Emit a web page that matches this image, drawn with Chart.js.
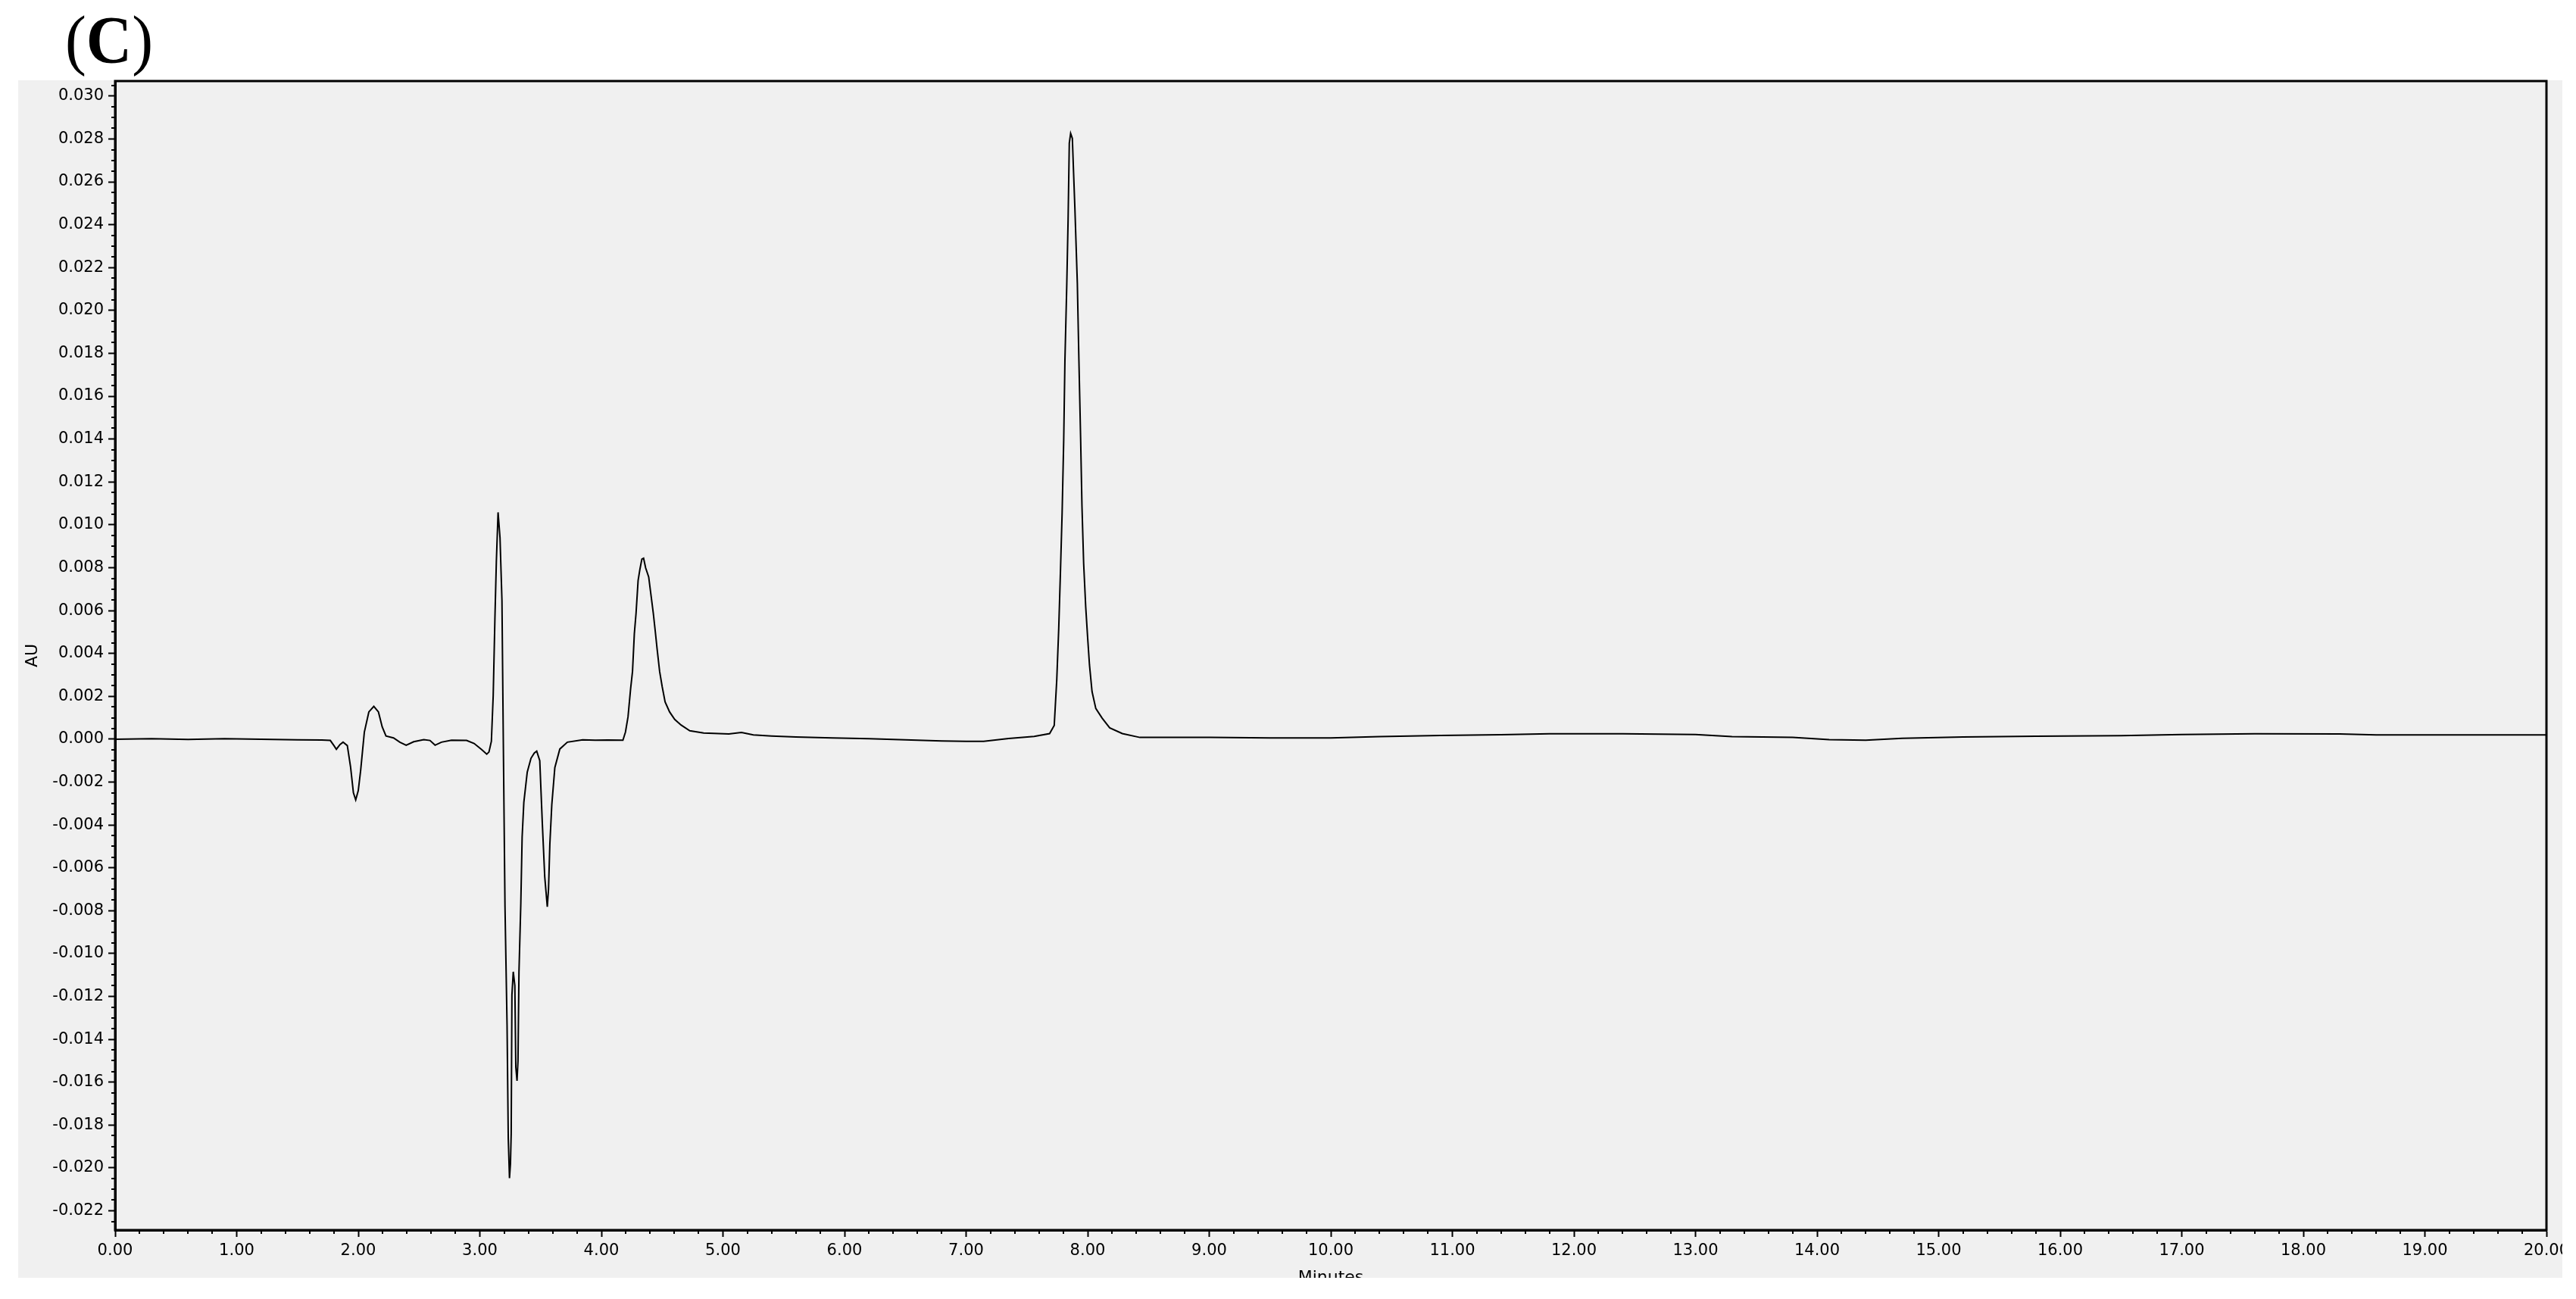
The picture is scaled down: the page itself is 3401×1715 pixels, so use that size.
<!DOCTYPE html>
<html>
<head>
<meta charset="utf-8">
<title>Chromatogram (C)</title>
<script src="https://cdn.jsdelivr.net/npm/chart.js@4.4.1/dist/chart.umd.min.js"></script>
<style>
  html, body { margin: 0; padding: 0; background: #fff; }
  #wrap { position: relative; width: 3401px; height: 1715px; }
  #chart { position: absolute; left: 0; top: 0; display: block; }
  #label {
    position: absolute; left: 86px; top: 9px;
    font-family: "Liberation Serif", "Times New Roman", serif;
    font-size: 88px; line-height: 1; color: #000;
    transform-origin: left top; transform: scaleX(0.95);
  }
</style>
</head>
<body>
<div id="wrap">
  <canvas id="chart" width="3401" height="1715"></canvas>
  <div id="label">(<b>C</b>)</div>
</div>
<script>
// retention time (min)
const times = [
  0.00, 0.30, 0.60, 0.90, 1.20, 1.50, 1.70, 1.77, 1.80, 1.82,
  1.85, 1.875, 1.91, 1.937, 1.96, 1.979, 2.00, 2.02, 2.05, 2.087,
  2.128, 2.166, 2.197, 2.228, 2.29, 2.342, 2.394, 2.456, 2.539, 2.59,
  2.632, 2.684, 2.767, 2.891, 2.953, 3.016, 3.057, 3.075, 3.095, 3.11,
  3.124, 3.136, 3.15, 3.166, 3.182, 3.193, 3.207, 3.224, 3.234, 3.244,
  3.252, 3.258, 3.264, 3.275, 3.288, 3.296, 3.306, 3.314, 3.322, 3.337,
  3.348, 3.362, 3.39, 3.421, 3.448, 3.468, 3.493, 3.514, 3.534, 3.555,
  3.565, 3.576, 3.592, 3.617, 3.658, 3.72, 3.846, 3.95, 4.05, 4.177,
  4.198, 4.219, 4.24, 4.256, 4.271, 4.285, 4.302, 4.317, 4.333, 4.347,
  4.364, 4.389, 4.406, 4.427, 4.443, 4.458, 4.479, 4.50, 4.524, 4.561,
  4.603, 4.655, 4.727, 4.841, 5.048, 5.152, 5.25, 5.40, 5.60, 5.90,
  6.20, 6.50, 6.80, 7.00, 7.144, 7.35, 7.56, 7.687, 7.725, 7.746,
  7.762, 7.777, 7.79, 7.803, 7.813, 7.828, 7.839, 7.849, 7.86, 7.874,
  7.884, 7.895, 7.915, 7.928, 7.942, 7.953, 7.967, 7.984, 7.999, 8.015,
  8.036, 8.067, 8.119, 8.181, 8.285, 8.43, 8.70, 9.01, 9.50, 10.00,
  10.40, 10.90, 11.40, 11.80, 12.40, 13.00, 13.30, 13.80, 14.10, 14.40,
  14.70, 15.20, 15.80, 16.50, 17.00, 17.60, 18.30, 18.60, 19.20, 20.00
];

// detector response (AU)
const absorbance = [
  0.00000, 0.00002, -0.00001, 0.00002, 0.00000, -0.00003, -0.00004, -0.00006, -0.00030, -0.00047,
  -0.00025, -0.00014, -0.00030, -0.00131, -0.00250, -0.00283, -0.00240, -0.00144, 0.00033, 0.00127,
  0.00153, 0.00127, 0.00057, 0.00015, 0.00006, -0.00014, -0.00028, -0.00012, -0.00002, -0.00006,
  -0.00028, -0.00014, -0.00005, -0.00006, -0.00020, -0.00049, -0.00070, -0.00060, -0.00010, 0.00203,
  0.00560, 0.00830, 0.01058, 0.00940, 0.00647, 0.00000, -0.00781, -0.01333, -0.01863, -0.02048,
  -0.01980, -0.01840, -0.01193, -0.01085, -0.01150, -0.01529, -0.01594, -0.01500, -0.01085, -0.00770,
  -0.00456, -0.00295, -0.00154, -0.00089, -0.00065, -0.00056, -0.00100, -0.00392, -0.00642, -0.00782,
  -0.00700, -0.00490, -0.00306, -0.00133, -0.00046, -0.00014, -0.00003, -0.00005, -0.00004, -0.00005,
  0.00033, 0.00104, 0.00233, 0.00316, 0.00492, 0.00587, 0.00740, 0.00793, 0.00840, 0.00844,
  0.00799, 0.00757, 0.00681, 0.00587, 0.00504, 0.00422, 0.00316, 0.00245, 0.00174, 0.00127,
  0.00092, 0.00066, 0.00039, 0.00029, 0.00024, 0.00031, 0.00020, 0.00015, 0.00010, 0.00006,
  0.00002, -0.00003, -0.00008, -0.00010, -0.00010, 0.00003, 0.00013, 0.00026, 0.00064, 0.00279,
  0.00516, 0.00797, 0.01057, 0.01395, 0.01767, 0.02116, 0.02421, 0.02781, 0.02826, 0.02803,
  0.02645, 0.02476, 0.02128, 0.01767, 0.01407, 0.01090, 0.00820, 0.00617, 0.00481, 0.00346,
  0.00222, 0.00143, 0.00098, 0.00053, 0.00026, 0.00008, 0.00008, 0.00008, 0.00006, 0.00006,
  0.00012, 0.00017, 0.00021, 0.00025, 0.00025, 0.00022, 0.00012, 0.00008, -0.00002, -0.00005,
  0.00004, 0.00010, 0.00014, 0.00016, 0.00022, 0.00025, 0.00024, 0.00020, 0.00020, 0.00020
];

const xTicks = [0, 1, 2, 3, 4, 5, 6, 7, 8, 9, 10, 11, 12, 13, 14, 15, 16, 17, 18, 19, 20];
const yTicks = [
  -0.022, -0.020, -0.018, -0.016, -0.014, -0.012, -0.010, -0.008, -0.006, -0.004, -0.002,
  0.000, 0.002, 0.004, 0.006, 0.008, 0.010, 0.012, 0.014, 0.016, 0.018, 0.020,
  0.022, 0.024, 0.026, 0.028, 0.030
];

const labelFont = { family: "DejaVu Sans", size: 21 };
const titleFont = { family: "DejaVu Sans", size: 22 };

// grey panel behind the chart, frame, minor ticks, and the cropped edges
const panelPlugin = {
  id: "panel",
  beforeDraw(chart) {
    const ctx = chart.ctx;
    ctx.save();
    ctx.fillStyle = "#ffffff";
    ctx.fillRect(0, 0, chart.width, chart.height);
    ctx.fillStyle = "#f0f0f0";
    ctx.fillRect(24, 106, 3359, 1581);
    ctx.restore();
  },
  afterDraw(chart) {
    const ctx = chart.ctx;
    const a = chart.chartArea;
    const xs = chart.scales.x;
    const ys = chart.scales.y;
    ctx.save();
    ctx.strokeStyle = "#000";
    ctx.lineWidth = 3;
    ctx.strokeRect(a.left, a.top, a.right - a.left, a.bottom - a.top);

    ctx.lineWidth = 2;
    ctx.beginPath();
    for (let i = 1; i < 100; i++) {
      if (i % 5 === 0) continue;
      const px = Math.round(xs.getPixelForValue(i / 5));
      ctx.moveTo(px, a.bottom);
      ctx.lineTo(px, a.bottom + 5);
    }
    for (let i = -46; i <= 61; i++) {
      if (i % 4 === 0) continue;
      const v = i * 0.0005;
      if (v < ys.min || v > ys.max) continue;
      const py = Math.round(ys.getPixelForValue(v));
      ctx.moveTo(a.left - 5, py);
      ctx.lineTo(a.left, py);
    }
    ctx.stroke();

    ctx.fillStyle = "#ffffff";
    ctx.fillRect(3383, 0, chart.width - 3383, chart.height);
    ctx.fillRect(0, 1687, chart.width, chart.height - 1687);
    ctx.restore();
  }
};

new Chart(document.getElementById("chart").getContext("2d"), {
  type: "line",
  data: {
    datasets: [{
      data: times.map((t, i) => ({ x: t, y: absorbance[i] })),
      borderColor: "#000",
      borderWidth: 2,
      pointRadius: 0,
      tension: 0,
      fill: false
    }]
  },
  options: {
    responsive: false,
    animation: false,
    devicePixelRatio: 1,
    layout: { padding: { left: 0, top: 107, right: 39, bottom: 0 } },
    plugins: { legend: { display: false }, tooltip: { enabled: false } },
    scales: {
      x: {
        type: "linear",
        min: 0,
        max: 20,
        afterBuildTicks: (s) => { s.ticks = xTicks.map((v) => ({ value: v })); },
        afterFit: (s) => { s.height = 91; },
        grid: { drawOnChartArea: false, tickLength: 9, tickWidth: 2, tickColor: "#000" },
        border: { color: "#000", width: 3 },
        ticks: {
          padding: 6, color: "#000", font: labelFont,
          maxRotation: 0, autoSkip: false,
          callback: (v) => Number(v).toFixed(2)
        },
        title: { display: true, text: "Minutes", color: "#000", font: titleFont, padding: { top: 0, bottom: 15 } }
      },
      y: {
        type: "linear",
        min: -0.0229,
        max: 0.0307,
        afterBuildTicks: (s) => { s.ticks = yTicks.map((v) => ({ value: v })); },
        afterFit: (s) => { s.width = 152; },
        grid: { drawOnChartArea: false, tickLength: 9, tickWidth: 2, tickColor: "#000" },
        border: { color: "#000", width: 3 },
        ticks: {
          padding: 6, color: "#000", font: labelFont,
          autoSkip: false,
          callback: (v) => Number(v).toFixed(3)
        },
        title: { display: true, text: "AU", color: "#000", font: titleFont, padding: { top: 30, bottom: 0 } }
      }
    }
  },
  plugins: [panelPlugin]
});
</script>
</body>
</html>
